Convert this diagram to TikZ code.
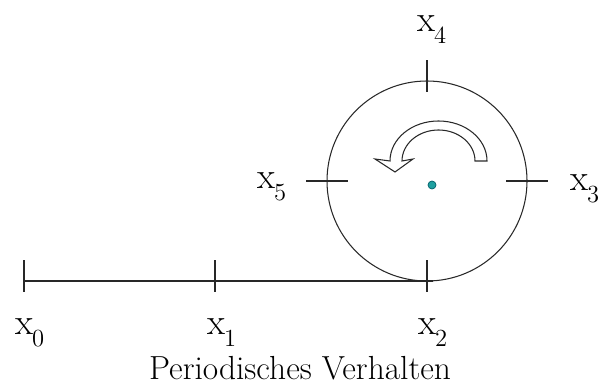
\documentclass[tikz,border=0pt]{standalone}
\usepackage{fontspec}
\usepackage{tikz}
\usetikzlibrary{positioning, calc}
\definecolor{mydark}{RGB}{40,40,40}
\definecolor{myteal}{RGB}{30,160,160}
\definecolor{mytealdark}{RGB}{0,95,105}
\newcommand{\xsub}[1]{x\kern-0.03em\raisebox{-0.32em}{\fontsize{14}{16}\selectfont #1}}
\tikzset{
  axisline/.style={line width=0.6pt, color=mydark},
  tickmark/.style={line width=0.6pt, color=mydark},
  orbit/.style={line width=0.6pt, color=mydark},
  xlabel/.style={font=\fontsize{21}{25}\selectfont, inner sep=0pt, anchor=base west},
  caption/.style={font=\fontsize{19}{22}\selectfont, inner sep=0pt, anchor=base},
  turnarrow/.style={line width=0.6pt, draw=mydark, fill=white, line join=miter}
}

\begin{document}
\begin{tikzpicture}[x=0.2mm, y=0.2mm]
  \useasboundingbox (0,0) rectangle (600,389);

  % Points on the line and on the circle
  \coordinate (p0) at (24,108);
  \coordinate (p1) at (215,108);
  \coordinate (p2) at (427,108);
  \coordinate (c)  at (427,208);
  \coordinate (p3) at (527,208);
  \coordinate (p4) at (427,308);
  \coordinate (p5) at (327,208);
  \coordinate (lineend) at (433,108);

  % Line and circle
  \draw[axisline] (p0) -- (lineend);
  \draw[orbit] (c) circle (20mm);

  % Tick marks
  \foreach \p in {p0, p1, p2, p4}
    \draw[tickmark] ($(\p)+(0,-11)$) -- ($(\p)+(0,21)$);
  \foreach \p in {p3, p5}
    \draw[tickmark] ($(\p)+(-21,0)$) -- ($(\p)+(21,0)$);

  % Labels
  \node[xlabel] (l0) at (15,54)  {\xsub{0}};
  \node[xlabel] (l1) at (207,54) {\xsub{1}};
  \node[xlabel] (l2) at (418,54) {\xsub{2}};
  \node[xlabel] (l3) at (570,198) {\xsub{3}};
  \node[xlabel] (l4) at (417,357) {\xsub{4}};
  \node[xlabel] (l5) at (257,200) {\xsub{5}};

  % Turning arrow
  \draw[turnarrow] (487,228)
    arc[start angle=0, end angle=180, x radius=9.7mm, y radius=8mm]
    -- (375,230) -- (395,217) -- (413,230) -- (402,228)
    arc[start angle=180, end angle=0, x radius=7.3mm, y radius=6.2mm]
    -- cycle;

  % Centre dot
  \fill[myteal, draw=mytealdark, line width=0.4pt] (432,204) circle (0.8mm);

  \node[caption] (title) at (300,9) {Periodisches Verhalten};
\end{tikzpicture}
\end{document}
